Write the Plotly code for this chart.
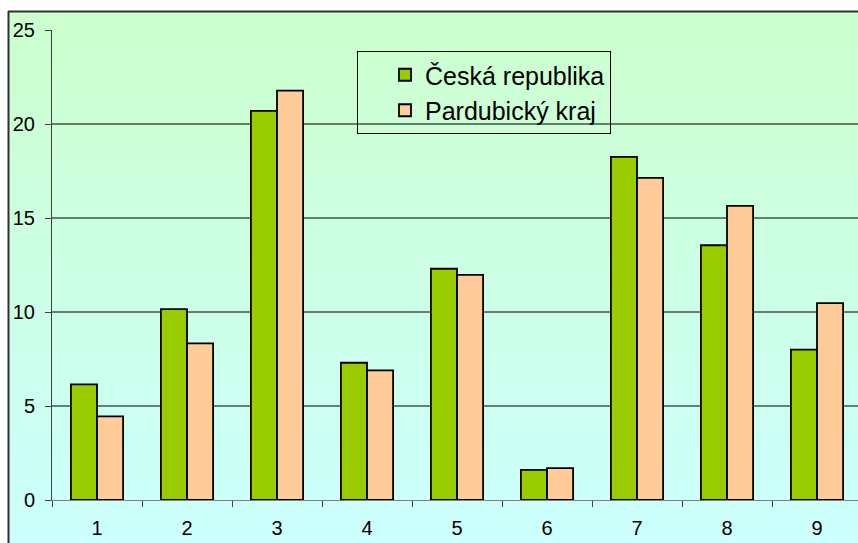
import base64
import plotly.graph_objects as go

categories = [1, 2, 3, 4, 5, 6, 7, 8, 9]
cr_values = [6.15, 10.15, 20.7, 7.3, 12.3, 1.6, 18.25, 13.55, 8.0]
pk_values = [4.45, 8.33, 21.78, 6.9, 11.97, 1.7, 17.13, 15.65, 10.47]
series_names = ["Česká republika", "Pardubický kraj"]
y_ticks = [0, 5, 10, 15, 20, 25]
grid_values = [5, 10, 15, 20]

W, H = 858, 543
ML, MT, MB, MR = 52, 30, 43, 0
PW = W - ML - MR
PH = H - MT - MB


def px_x(p):
    return (p - ML) / PW


def px_y(p):
    return (H - MB - p) / PH


svg = (
    '<svg xmlns="http://www.w3.org/2000/svg" width="100" height="100" preserveAspectRatio="none">'
    '<defs><linearGradient id="g" x1="0" y1="0" x2="0" y2="1">'
    '<stop offset="0" stop-color="#CCFFCC"/><stop offset="1" stop-color="#CCFFFF"/>'
    '</linearGradient></defs><rect width="100" height="100" fill="url(#g)"/></svg>'
)
src = "data:image/svg+xml;base64," + base64.b64encode(svg.encode()).decode()

fig = go.Figure()
fig.add_trace(go.Bar(x=categories, y=cr_values, name=series_names[0],
                     marker=dict(color="#99CC00", line=dict(color="black", width=1.8))))
fig.add_trace(go.Bar(x=categories, y=pk_values, name=series_names[1],
                     marker=dict(color="#FFCC99", line=dict(color="black", width=1.8))))

shapes = []
for g in grid_values:
    shapes.append(dict(type="line", xref="paper", yref="y", x0=0, x1=1, y0=g, y1=g,
                       line=dict(color="black", width=1), layer="below"))
# outer chart border
shapes.append(dict(type="line", xref="paper", yref="paper", x0=px_x(8), x1=px_x(870),
                   y0=px_y(11.5), y1=px_y(11.5), line=dict(color="#303030", width=2)))
shapes.append(dict(type="line", xref="paper", yref="paper", x0=px_x(8.5), x1=px_x(8.5),
                   y0=px_y(11), y1=px_y(560), line=dict(color="#303030", width=2)))

fig.update_layout(
    width=W, height=H,
    margin=dict(l=ML, r=MR, t=MT, b=MB, autoexpand=False),
    paper_bgcolor="white",
    plot_bgcolor="rgba(0,0,0,0)",
    barmode="group", bargap=0.42, bargroupgap=0,
    font=dict(family="Liberation Sans, Arial, sans-serif", color="black", size=20),
    showlegend=True,
    legend=dict(x=px_x(357), y=px_y(51), xanchor="left", yanchor="top",
                bgcolor="rgba(0,0,0,0)", bordercolor="black", borderwidth=1,
                font=dict(size=25), indentation=27, tracegroupgap=0,
                entrywidth=220, entrywidthmode="pixels"),
    images=[dict(source=src, xref="paper", yref="paper", x=px_x(9), y=px_y(12),
                 sizex=px_x(870) - px_x(9), sizey=px_y(12) - px_y(560),
                 xanchor="left", yanchor="top", sizing="stretch", layer="below")],
    shapes=shapes,
)
fig.update_xaxes(range=[0.5, 0.5 + PW / 90.0], tickvals=categories,
                 ticktext=[str(c) for c in categories], ticks="",
                 tickfont=dict(size=20),
                 showgrid=False, zeroline=False, showline=True, linecolor="#808080",
                 linewidth=1, ticklabelstandoff=10, automargin=False,
                 minor=dict(ticks="outside", tick0=0.5, dtick=1, ticklen=6,
                            tickcolor="#404040", showgrid=False))
fig.update_yaxes(range=[0, 25], tickvals=y_ticks, ticks="outside", ticklen=6,
                 tickfont=dict(size=20), automargin=False,
                 tickcolor="#404040", showgrid=False, zeroline=False, showline=True,
                 linecolor="#404040", linewidth=1, ticklabelstandoff=6)

fig.write_html("out.html", config={"displayModeBar": False},
               post_script="document.body.style.margin='0';")
